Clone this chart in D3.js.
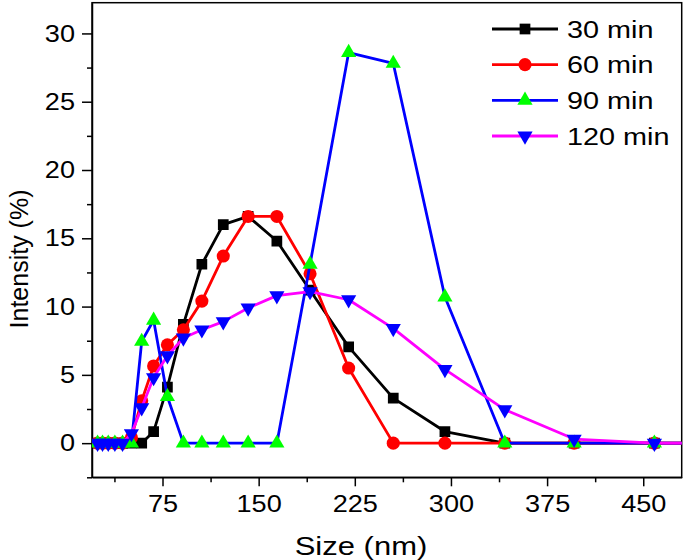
<!DOCTYPE html>
<html><head><meta charset="utf-8">
<script src="https://cdn.jsdelivr.net/npm/d3@7"></script>
<style>body{margin:0;background:#fff}text{font-family:"Liberation Sans",Arial,sans-serif;fill:#000}</style>
</head><body>
<svg id="c" width="685" height="560"></svg>
<script>
// Malvern size bins (nm)
const sizes = [24.36,28.21,32.67,37.84,43.82,50.75,58.77,68.06,78.82,91.28,105.7,122.4,141.8,164.2,190.1,220.2,255.0,295.3,342.0,396.1,458.7,531.2];
const min30  = [0,0,0,0,0,0,0,0.85,4.1,8.7,13.1,16.0,16.6,14.8,11.2,7.05,3.3,0.85,0,0,0,0];
const min60  = [0,0,0,0,0,0.4,3.1,5.65,7.2,8.3,10.4,13.7,16.6,16.6,12.4,5.5,0,0,0,0,0,0];
const min90  = [0,0,0,0,0,0,7.45,9.0,3.4,0,0,0,0,0,13.1,28.6,27.8,10.7,0,0,0,0];
const min120 = [0,0,0,0,0,0.7,2.6,4.8,6.4,7.7,8.3,8.9,9.9,10.8,11.1,10.5,8.4,5.4,2.45,0.3,0,0];
const seriesNames = ["30 min","60 min","90 min","120 min"];
const xTicks = [75,150,225,300,375,450];
const xMinor = [37.5,112.5,187.5,262.5,337.5,412.5];
const yTicks = [0,5,10,15,20,25,30];
const yMinor = [-2.5,2.5,7.5,12.5,17.5,22.5,27.5];

const svg = d3.select("#c");
const L=92, R=681.7, T=2.7, B=477.3;
const x = d3.scaleLinear().domain([20,480]).range([L,R]);
const y = d3.scaleLinear().domain([-2.5,32.25]).range([B,T]);

svg.append("defs").append("clipPath").attr("id","clip")
  .append("rect").attr("x",L).attr("y",T).attr("width",R-L).attr("height",B-T);

// frame
svg.append("rect").attr("x",L).attr("y",T).attr("width",R-L).attr("height",B-T)
  .attr("fill","none").attr("stroke","#000").attr("stroke-width",1.5);

// axes
const TK = 1.13; // horizontal stretch of tick labels
svg.append("g").attr("transform",`translate(0,${B})`)
  .call(d3.axisBottom(x).tickValues(xTicks).tickFormat(d3.format("d")).tickSize(9).tickSizeOuter(0).tickPadding(9))
  .selectAll(".tick text").attr("transform",`scale(${TK},1)`);
svg.append("g").attr("transform",`translate(0,${B})`)
  .call(d3.axisBottom(x).tickValues(xMinor).tickFormat("").tickSize(5).tickSizeOuter(0))
  .select(".domain").remove();
svg.append("g").attr("transform",`translate(${L},0)`)
  .call(d3.axisLeft(y).tickValues(yTicks).tickFormat(d3.format("d")).tickSize(10).tickSizeOuter(0).tickPadding(7))
  .selectAll(".tick text").attr("x",-17/TK).attr("transform",`scale(${TK},1)`);
svg.append("g").attr("transform",`translate(${L},0)`)
  .call(d3.axisLeft(y).tickValues(yMinor).tickFormat("").tickSize(5).tickSizeOuter(0))
  .select(".domain").remove();
svg.selectAll(".tick line,.domain").attr("stroke","#000").attr("stroke-width",1.5);
svg.selectAll(".tick text").attr("font-size",24).attr("font-family","'Liberation Sans',Arial,sans-serif").attr("fill","#000");

// titles
svg.append("text").attr("transform","translate(361,555) scale(1.24,1)").attr("text-anchor","middle").attr("font-size",25).text("Size (nm)");
svg.append("text").attr("transform","translate(28,259) rotate(-90)").attr("text-anchor","middle").attr("font-size",25).text("Intensity (%)");

const styles = [
  {vals:min30, line:"#000000", fill:"#000000", sym:d3.symbolSquare, size:115, rot:0},
  {vals:min60, line:"#ff0000", fill:"#ff0000", sym:d3.symbolCircle, size:135, rot:0},
  {vals:min90, line:"#0000ff", fill:"#00ff00", sym:d3.symbolTriangle, size:100, rot:0},
  {vals:min120, line:"#ff00ff", fill:"#0000ff", sym:d3.symbolTriangle, size:100, rot:180},
];
const line = d3.line().x(d=>x(d[0])).y(d=>y(d[1]));
const plot = svg.append("g").attr("clip-path","url(#clip)");
styles.forEach(s=>{
  const pts = sizes.map((v,i)=>[v,s.vals[i]]);
  const g = plot.append("g");
  g.append("path").attr("d",line(pts)).attr("fill","none").attr("stroke",s.line).attr("stroke-width",2.8).attr("stroke-linejoin","round");
  g.selectAll("path.m").data(pts).enter().append("path").attr("class","m")
    .attr("d",d3.symbol().type(s.sym).size(s.size))
    .attr("transform",d=>`translate(${x(d[0])},${y(d[1])}) rotate(${s.rot})`)
    .attr("fill",s.fill);
});

// legend
const leg = svg.append("g");
const rowY = d3.scaleLinear().domain([0,3]).range([29,136]);
styles.forEach((s,i)=>{
  const yy = rowY(i);
  leg.append("line").attr("x1",492).attr("x2",558).attr("y1",yy).attr("y2",yy).attr("stroke",s.line).attr("stroke-width",2.8);
  leg.append("path").attr("d",d3.symbol().type(s.sym).size(s.size)).attr("transform",`translate(525,${yy}) rotate(${s.rot})`).attr("fill",s.fill);
  leg.append("text").attr("transform",`translate(567,${yy}) scale(1.2,1)`).attr("dy","0.36em").attr("font-size",24).text(seriesNames[i]);
});
</script>
</body></html>
